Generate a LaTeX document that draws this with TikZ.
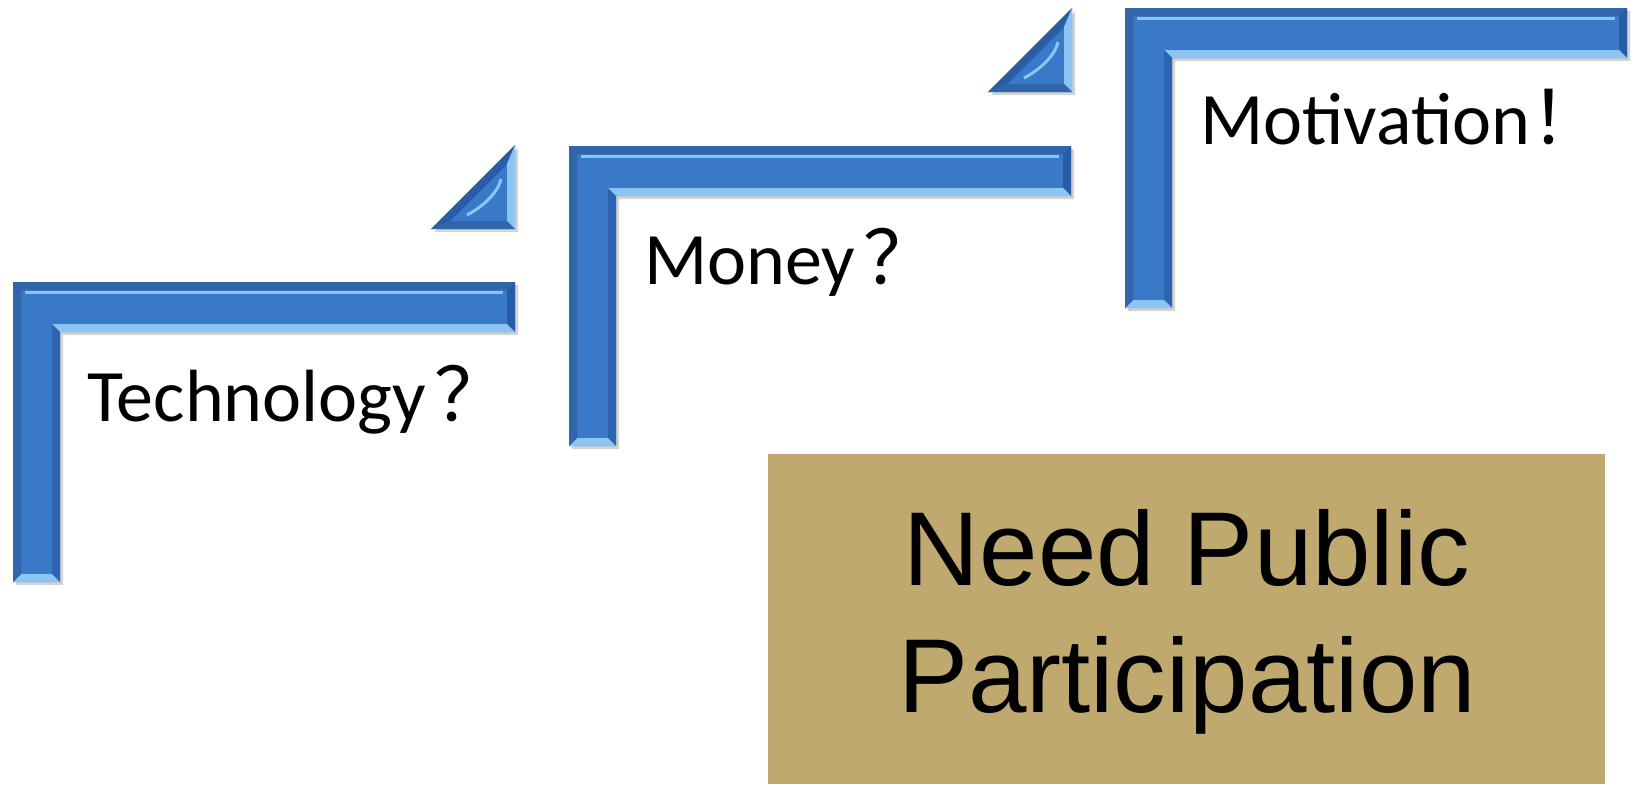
\documentclass[tikz,border=0pt]{standalone}
\usepackage{fontspec}
\setmainfont{Carlito}
\newfontfamily\boxfont{Liberation Sans}
\newfontfamily\cjkfont{Noto Sans CJK SC}
\usetikzlibrary{shadows}

\definecolor{barblue}{RGB}{58,120,200}
\definecolor{barlight}{RGB}{140,196,242}
\definecolor{bardark}{RGB}{40,92,165}
\definecolor{boxkhaki}{RGB}{191,169,110}

\tikzset{
  barshape/.style={fill=barblue, drop shadow={opacity=0.35, shadow xshift=1.5pt, shadow yshift=-1.5pt}},
  facetlight/.style={fill=barlight},
  facetdark/.style={fill=bardark},
  facetinner/.style={fill=bardark!70!barblue},
  facetmid/.style={fill=barblue!85!black},
  steptext/.style={anchor=base west, inner sep=0pt, font=\fontsize{37}{40}\selectfont},
  boxtext/.style={anchor=base, inner sep=0pt, font=\boxfont\fontsize{52.5}{60}\selectfont}
}

\begin{document}
\begin{tikzpicture}[x=0.5pt,y=-0.5pt]
    \useasboundingbox (0,0) rectangle (1637,784);

    % The three steps
    \foreach \sx/\sy in {13/282, 569/146, 1125/8} {
      \begin{scope}[shift={(\sx,\sy)}]
        \fill[barshape] (0,0) -- (502,0) -- (502,50) -- (47,50) -- (47,300) -- (0,300) -- cycle;
        \fill[facetmid] (0,0) -- (502,0) -- (494,8) -- (8,8) -- cycle;
        \fill[facetdark] (502,0) -- (502,50) -- (494,42) -- (494,8) -- cycle;
        \fill[facetlight] (502,50) -- (47,50) -- (39,42) -- (494,42) -- cycle;
        \fill[facetinner] (47,50) -- (47,300) -- (39,292) -- (39,42) -- cycle;
        \fill[facetlight] (47,300) -- (0,300) -- (8,292) -- (39,292) -- cycle;
        \fill[facetmid] (0,300) -- (0,0) -- (8,8) -- (8,292) -- cycle;
        \draw[barlight, line width=1.5pt] (12,10) -- (490,10);
      \end{scope}
    }

    % Small triangles between the steps
    \foreach \sx/\sy in {431/145, 988/8} {
      \begin{scope}[shift={(\sx,\sy)}]
        \fill[barshape] (0,84) -- (84,0) -- (84,84) -- cycle;
        \fill[facetdark] (0,84) -- (84,0) -- (76,19) -- (19,76) -- cycle;
        \fill[facetlight] (84,0) -- (84,84) -- (76,76) -- (76,19) -- cycle;
        \fill[facetmid] (84,84) -- (0,84) -- (19,76) -- (76,76) -- cycle;
        \draw[barlight, line width=1.5pt] (36,70) .. controls (55,60) and (68,45) .. (70,34);
      \end{scope}
    }

    % Labels of the steps
    \node[steptext] (tech) at (87,421) {Technology\hspace{4pt}{\cjkfont ？}};
    \node[steptext] (money) at (644,284) {Money\hspace{4pt}{\cjkfont ？}};
    \node[steptext] (motiv) at (1200,144) {Motivation{\cjkfont ！}};

    % Box at the bottom right
    \fill[boxkhaki] (768,454) rectangle (1605,784);
    \node[boxtext] (need) at (1187,585) {Need Public};
    \node[boxtext] (particip) at (1187,712) {Participation};
\end{tikzpicture}
\end{document}
